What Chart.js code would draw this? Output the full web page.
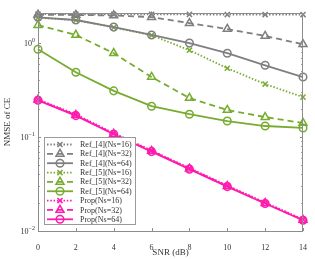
<!DOCTYPE html>
<html><head><meta charset="utf-8">
<script src="https://cdn.jsdelivr.net/npm/chart.js@4"></script>
<style>html,body{margin:0;padding:0;background:#fff}#wrap{width:315px;height:259px}</style>
</head><body><div id="wrap"><canvas id="c" width="315" height="259"></canvas></div>
<script>
const snr = [0, 2, 4, 6, 8, 10, 12, 14];
const xTicks = [0, 2, 4, 6, 8, 10, 12, 14];
const yMajorTicks = [0.01, 0.1, 1];
const ref4_16 = [2.03, 2.03, 2.02, 2.02, 2.02, 2.01, 2.01, 2.01];
const ref4_32 = [2.0, 1.99, 1.97, 1.89, 1.63, 1.41, 1.19, 0.97];
const ref4_64 = [1.88, 1.76, 1.48, 1.22, 1.0, 0.78, 0.58, 0.435];
const ref5_16 = [1.86, 1.75, 1.47, 1.21, 0.84, 0.54, 0.366, 0.266];
const ref5_32 = [1.55, 1.22, 0.78, 0.435, 0.26, 0.194, 0.163, 0.141];
const ref5_64 = [0.86, 0.49, 0.31, 0.213, 0.175, 0.148, 0.131, 0.125];
const prop_16 = [0.252, 0.174, 0.110, 0.072, 0.0468, 0.0305, 0.0201, 0.0133];
const prop_32 = [0.249, 0.171, 0.108, 0.071, 0.0460, 0.0300, 0.0198, 0.0131];
const prop_64 = [0.246, 0.169, 0.107, 0.070, 0.0455, 0.0297, 0.0196, 0.0130];
const labels = ['Ref_[4](Ns=16)','Ref_[4](Ns=32)','Ref_[4](Ns=64)','Ref_[5](Ns=16)','Ref_[5](Ns=32)','Ref_[5](Ns=64)','Prop(Ns=16)','Prop(Ns=32)','Prop(Ns=64)'];

const GRAY = '#7f7f7f', GREEN = '#77ac30', MAG = '#ff1aae';
const DOT = [1.5, 1.8], DASH = [6, 4], SOLID = [];
function ds(label, data, color, dash, marker) {
  const r = marker === 'triangle' ? 4.6 : (marker === 'circle' ? 3.8 : 3.6);
  return {label, data: data.map((v, i) => ({x: snr[i], y: v})), borderColor: color, backgroundColor: 'rgba(0,0,0,0)',
    borderWidth: 1.8, borderDash: dash, pointStyle: marker, pointRadius: r, pointBorderWidth: 1.5,
    pointBorderColor: color, pointBackgroundColor: 'rgba(0,0,0,0)', fill: false, tension: 0, clip: false};
}
const datasets = [
  ds(labels[0], ref4_16, GRAY, DOT, 'crossRot'),
  ds(labels[1], ref4_32, GRAY, DASH, 'triangle'),
  ds(labels[2], ref4_64, GRAY, SOLID, 'circle'),
  ds(labels[3], ref5_16, GREEN, DOT, 'crossRot'),
  ds(labels[4], ref5_32, GREEN, DASH, 'triangle'),
  ds(labels[5], ref5_64, GREEN, SOLID, 'circle'),
  ds(labels[6], prop_16, MAG, DOT, 'crossRot'),
  ds(labels[7], prop_32, MAG, DASH, 'triangle'),
  ds(labels[8], prop_64, MAG, SOLID, 'circle'),
];

const FONT = '"Liberation Serif", "Times New Roman", serif';
const deco = {
  id: 'deco',
  afterDraw(chart) {
    const ctx = chart.ctx, a = chart.chartArea, xs = chart.scales.x, ys = chart.scales.y;
    ctx.save();
    ctx.strokeStyle = '#8c8c8c'; ctx.lineWidth = 1; ctx.setLineDash([]);
    ctx.strokeRect(a.left + 0.5, a.top + 0.5, a.right - a.left - 1, a.bottom - a.top);
    ctx.beginPath();
    xTicks.forEach(t => {
      const px = Math.round(xs.getPixelForValue(t)) + 0.5;
      ctx.moveTo(px, a.bottom); ctx.lineTo(px, a.bottom - 3);
      ctx.moveTo(px, a.top); ctx.lineTo(px, a.top + 3);
    });
    for (let d = -2; d <= 0; d++) {
      for (let m = 1; m <= 9; m++) {
        const v = m * Math.pow(10, d);
        if (v > ys.max) break;
        const py = Math.round(ys.getPixelForValue(v)) + 0.5;
        const len = m === 1 ? 3 : 1.8;
        ctx.moveTo(a.left, py); ctx.lineTo(a.left + len, py);
        ctx.moveTo(a.right, py); ctx.lineTo(a.right - len, py);
      }
    }
    ctx.stroke();
    ctx.fillStyle = '#333';
    yMajorTicks.forEach(v => {
      const py = ys.getPixelForValue(v);
      const exp = String(Math.round(Math.log10(v))).replace('-', '\u2212');
      ctx.font = '6px ' + FONT;
      const supW = ctx.measureText(exp).width;
      const right = a.left - 3;
      ctx.font = '8px ' + FONT;
      ctx.textAlign = 'right'; ctx.textBaseline = 'middle';
      ctx.fillText('10', right - supW, py + 1);
      ctx.font = '6px ' + FONT; ctx.textAlign = 'left';
      ctx.fillText(exp, right - supW, py - 2.5);
    });
    const lx = 44.5, ly = 137.5, lw = 91, lh = 87;
    ctx.fillStyle = '#fff'; ctx.fillRect(lx, ly, lw, lh);
    ctx.strokeStyle = '#9a9a9a'; ctx.lineWidth = 1; ctx.strokeRect(lx, ly, lw, lh);
    chart.data.datasets.forEach((d, i) => {
      const cy = 144.5 + i * 9.35;
      ctx.strokeStyle = d.borderColor; ctx.lineWidth = d.borderWidth; ctx.setLineDash(d.borderDash);
      ctx.beginPath(); ctx.moveTo(47, cy); ctx.lineTo(73, cy); ctx.stroke();
      ctx.setLineDash([]);
      ctx.lineWidth = d.pointBorderWidth; ctx.strokeStyle = d.borderColor; ctx.fillStyle = 'rgba(0,0,0,0)';
      Chart.helpers.drawPoint(ctx, {pointStyle: d.pointStyle, radius: d.pointRadius, rotation: 0, borderWidth: d.pointBorderWidth}, 60, cy);
      ctx.fillStyle = '#333'; ctx.font = '8px ' + FONT; ctx.textAlign = 'left'; ctx.textBaseline = 'middle';
      ctx.fillText(d.label, 80, cy + 0.5);
    });
    ctx.restore();
  }
};

new Chart(document.getElementById('c'), {
  type: 'line',
  data: {datasets},
  options: {
    responsive: false, animation: false, devicePixelRatio: 1,
    layout: {padding: {top: 13, right: 12, left: 0, bottom: 0}},
    plugins: {legend: {display: false}, tooltip: {enabled: false}},
    scales: {
      x: {type: 'linear', min: 0, max: 14,
        afterBuildTicks: s => { s.ticks = xTicks.map(v => ({value: v})); },
        afterFit: s => { s.height = 28; },
        grid: {display: false}, border: {display: false},
        ticks: {color: '#333', font: {family: FONT, size: 8}, padding: 4, maxRotation: 0},
        title: {display: true, text: 'SNR (dB)', color: '#333', font: {family: FONT, size: 9}, padding: {top: 0, bottom: 1}}},
      y: {type: 'logarithmic', min: 0.01, max: 2.09,
        afterFit: s => { s.width = 38; },
        grid: {display: false}, border: {display: false},
        ticks: {display: false},
        title: {display: true, text: 'NMSE of CE', color: '#333', font: {family: FONT, size: 9}, padding: {top: 2, bottom: 0}}}
    }
  },
  plugins: [deco]
});
</script></body></html>
